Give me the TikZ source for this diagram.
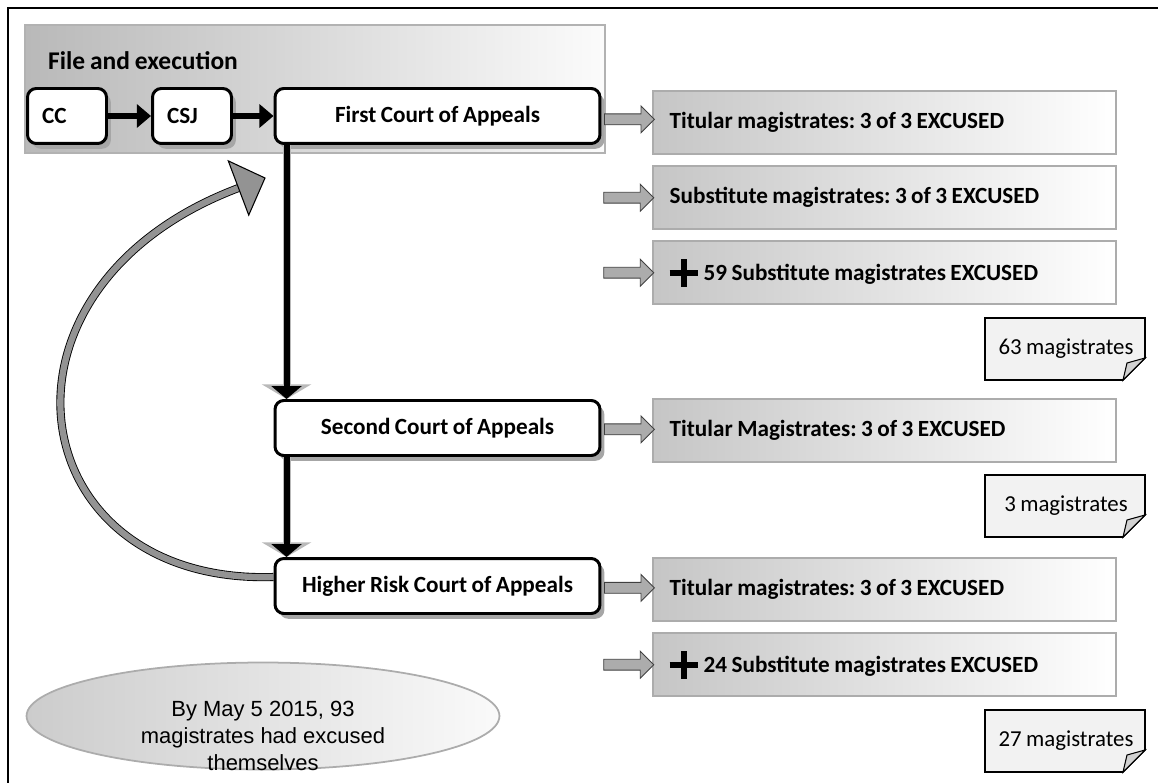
\documentclass[tikz,border=0pt]{standalone}
\usepackage{fontspec}
\setmainfont[WordSpace=0.85]{Carlito}
\newfontfamily\arialfont{Liberation Sans}
\usetikzlibrary{shapes.geometric,shapes.arrows,shadows,arrows.meta,calc}

\newcommand\bigplus{\rlap{\rule[2.4pt]{16pt}{3.6pt}}\hspace*{6.2pt}\rule[-3.8pt]{3.6pt}{16pt}\hspace*{9.5pt}}

\begin{document}
\frenchspacing
\begin{tikzpicture}[x=0.02cm,y=-0.02cm,
	court/.style={draw=black, line width=1.7pt, rounded corners=5pt, fill=white,
		minimum height=1.1cm, font=\fontsize{13.2}{15}\selectfont\bfseries,
		drop shadow={shadow xshift=2.5pt, shadow yshift=-3pt, fill=gray!70, opacity=1}},
	result/.style={draw=gray!65, line width=1.4pt, left color=gray!45, right color=white,
		minimum width=9.26cm, minimum height=1.26cm, text width=8.6cm, inner xsep=0.33cm,
		align=flush left, anchor=north west, font=\fontsize{13.2}{15}\selectfont\bfseries},
	hollow/.style={single arrow, draw=black!75, fill=gray!65, line width=0.5pt,
		minimum height=1cm, inner xsep=0pt, inner ysep=0.1cm, single arrow head extend=0.16cm},
	push/.style={line width=3.2pt, -{Triangle[length=8pt,width=13pt]}},
	drop/.style={line width=3.4pt, -{Triangle[length=7.4pt,width=17pt]},
		preaction={draw=gray!55, line width=4.6pt, -{Triangle[length=8.4pt,width=28pt]}}},
	tally/.style={font=\fontsize{13}{15}\selectfont}
	]
		\useasboundingbox (0,0) rectangle (1158,783);
		\draw[line width=1.1pt] (8,800) -- (8,8) -- (1170,8);

		% file and execution group
		\draw[draw=gray!60, line width=1.3pt, left color=gray!55, right color=gray!3] (25,25) rectangle (605,153);
		\node[anchor=west, font=\fontsize{14.5}{16}\selectfont\bfseries] (grouptitle) at (42,61) {File and execution};

		\node[court, minimum width=1.58cm, text width=1.0cm, inner xsep=0.29cm] (cc) at (67,116) {CC};
		\node[court, minimum width=1.58cm, text width=1.0cm, inner xsep=0.29cm] (csj) at (192,116) {CSJ};
		\node[court, minimum width=6.5cm] (first) at (437.5,116) {First Court of Appeals};
		\node[court, minimum width=6.5cm] (second) at (437.5,428) {Second Court of Appeals};
		\node[court, minimum width=6.5cm] (higher) at (437.5,586) {Higher Risk Court of Appeals};

		\draw[push] (cc) -- (csj);
		\draw[push] (csj) -- (first);
		\draw[drop] ([xshift=0.26cm]first.south west) -- ([xshift=0.26cm]second.north west);
		\draw[drop] ([xshift=0.26cm]second.south west) -- ([xshift=0.26cm]higher.north west);

		% results
		\node[result] (tit1) at (652,90) {Titular magistrates: 3 of 3 EXCUSED};
		\node[result] (sub1) at (652,165) {Substitute magistrates: 3 of 3 EXCUSED};
		\node[result] (sub2) at (652,240) {\bigplus 59 Substitute magistrates EXCUSED};
		\node[result] (tit2) at (652,398) {Titular Magistrates: 3 of 3 EXCUSED};
		\node[result] (tit3) at (652,557) {Titular magistrates: 3 of 3 EXCUSED};
		\node[result] (sub3) at (652,632) {\bigplus 24 Substitute magistrates EXCUSED};

		\node[hollow] (ar1) at ($(first.east)!0.5!(tit1.west)$) {};
		\node[hollow] (ar2) at ($(sub1.west)+(-26,0)$) {};
		\node[hollow] (ar3) at ($(sub2.west)+(-26,0)$) {};
		\node[hollow] (ar4) at ($(second.east)!0.5!(tit2.west)$) {};
		\node[hollow] (ar5) at ($(higher.east)!0.5!(tit3.west)$) {};
		\node[hollow] (ar6) at ($(sub3.west)+(-26,0)$) {};

		% notes
		\foreach \y/\t [count=\i] in {318/63 magistrates, 475/3 magistrates, 710/27 magistrates} {
			\draw[fill=gray!10, line width=0.9pt] (985,\y) -- ++(160,0) -- ++(0,40) -- ++(-22,22) -- ++(-138,0) -- cycle;
			\draw[fill=gray!35, line width=0.6pt] (1145,\y+40) -- (1123,\y+62) -- (1127,\y+45) -- cycle;
			\node[tally] (note\i) at (1066,\y+31) {\t};
		}

		% back to the first court
		\coordinate (loopstart) at ($(higher.west)+(0,-9)$);
		\coordinate (loopend) at (238.5,188);
		\coordinate (looptip) at (265,178);
		\draw[double=gray!85, double distance=3.6pt, line width=0.5pt] (loopstart) .. controls (20,585) and (-26.5,288) .. (loopend);
		\filldraw[fill=gray!85, draw=black, line width=0.6pt] (looptip) -- ($(loopend)!0.58cm!90:(looptip)$) -- ($(loopend)!0.58cm!-90:(looptip)$) -- cycle;

		\node[ellipse, draw=gray!65, line width=1pt, left color=gray!40, right color=gray!4,
			minimum width=9.46cm, minimum height=2.14cm] (summary) at (263,716) {};
		\node[font=\arialfont\fontsize{12.5}{15.5}\selectfont, align=center] (summarytext) at ($(summary.center)+(0,20)$)
			{By May 5 2015, 93\\magistrates had excused\\themselves};
	\end{tikzpicture}
\end{document}
